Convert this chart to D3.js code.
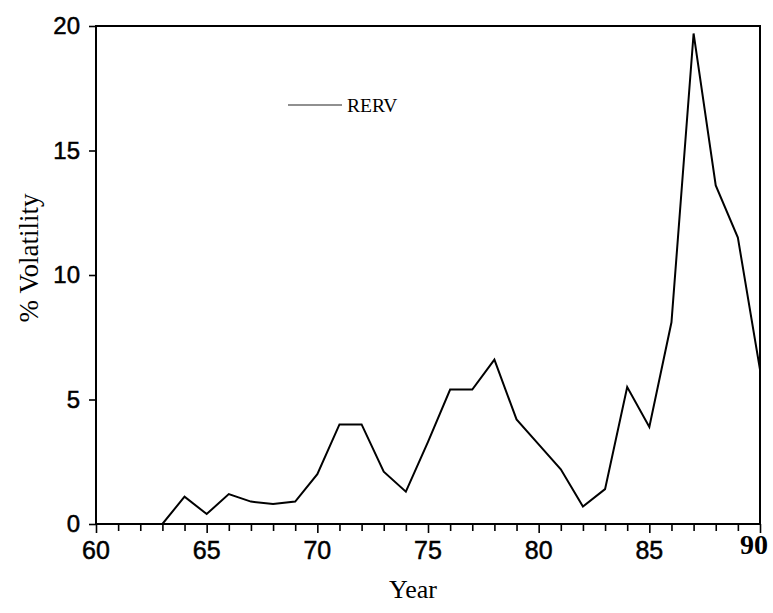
<!DOCTYPE html>
<html>
<head>
<meta charset="utf-8">
<script src="https://cdn.jsdelivr.net/npm/d3@7/dist/d3.min.js"></script>
<style>
  html, body { margin: 0; padding: 0; background: #fff; }
  svg { display: block; }
</style>
</head>
<body>
<svg id="chart" width="773" height="613"></svg>
<script>
// ---- data ----
const years = [60,61,62,63,64,65,66,67,68,69,70,71,72,73,74,75,76,77,78,79,80,81,82,83,84,85,86,87,88,89,90];
const rerv  = [0,0,0,0,1.1,0.4,1.2,0.9,0.8,0.9,2.0,4.0,4.0,2.1,1.3,3.3,5.4,5.4,6.6,4.2,3.2,2.2,0.7,1.4,5.5,3.9,8.1,19.7,13.6,11.5,6.2];
const xTickLabels = [60,65,70,75,80,85,90];
const yTickLabels = [0,5,10,15,20];
const seriesName = "RERV";

(function () {
// ---- layout ----
const svg = d3.select("#chart");
const mLeft = 96, mRight = 760, mTop = 26, mBottom = 524;

const x = d3.scaleLinear().domain([60, 90]).range([mLeft, mRight]);
const y = d3.scaleLinear().domain([0, 20]).range([mBottom, mTop]);

// frame
svg.append("rect")
  .attr("x", mLeft).attr("y", mTop)
  .attr("width", mRight - mLeft).attr("height", mBottom - mTop)
  .attr("fill", "none").attr("stroke", "#000").attr("stroke-width", 2);

// x axis: minor ticks every year
const xAxis = d3.axisBottom(x)
  .tickValues(d3.range(60, 91, 1))
  .tickSize(7)
  .tickFormat("");
const gx = svg.append("g").attr("transform", `translate(0,${mBottom})`).call(xAxis);
gx.select(".domain").remove();
gx.selectAll(".tick line").attr("stroke", "#000").attr("stroke-width", 1.6)
  .attr("y2", d => (d % 5 === 0 ? 9 : 7));

// x labels
svg.append("g").selectAll("text")
  .data(xTickLabels)
  .join("text")
  .attr("x", d => x(d) + (d === 90 ? -6 : 0))
  .attr("y", d => d === 90 ? 554 : 559)
  .attr("text-anchor", "middle")
  .attr("font-family", d => d === 90 ? "'Liberation Serif', 'Times New Roman', serif" : "'Liberation Sans', Arial, sans-serif")
  .attr("font-weight", d => d === 90 ? "bold" : "normal")
  .attr("font-size", d => d === 90 ? 28 : 25)
  .attr("fill", "#000")
  .attr("stroke", "#000")
  .attr("stroke-width", d => d === 90 ? 0 : 0.5)
  .text(d => d);

// y axis
const yAxis = d3.axisLeft(y).tickValues(yTickLabels).tickSize(7).tickFormat("");
const gy = svg.append("g").attr("transform", `translate(${mLeft},0)`).call(yAxis);
gy.select(".domain").remove();
gy.selectAll(".tick line").attr("stroke", "#000").attr("stroke-width", 1.6);

svg.append("g").selectAll("text")
  .data(yTickLabels)
  .join("text")
  .attr("x", 80)
  .attr("y", d => y(d) + 8)
  .attr("text-anchor", "end")
  .attr("font-family", "'Liberation Sans', Arial, sans-serif")
  .attr("font-size", 24)
  .attr("fill", "#000")
  .attr("stroke", "#000")
  .attr("stroke-width", 0.5)
  .text(d => d);

// line
const line = d3.line()
  .x((d, i) => x(years[i]))
  .y(d => y(d));
svg.append("path")
  .datum(rerv)
  .attr("d", line)
  .attr("fill", "none")
  .attr("stroke", "#000")
  .attr("stroke-width", 2)
  .attr("stroke-linejoin", "miter");

// legend
svg.append("line")
  .attr("x1", 288).attr("x2", 342)
  .attr("y1", 105).attr("y2", 105)
  .attr("stroke", "#222").attr("stroke-width", 1.2);
svg.append("text")
  .attr("x", 347).attr("y", 112)
  .attr("font-family", "'Liberation Serif', 'Times New Roman', serif")
  .attr("font-size", 19.5)
  .attr("fill", "#000")
  .text(seriesName);

// axis titles
svg.append("text")
  .attr("x", 413).attr("y", 598)
  .attr("text-anchor", "middle")
  .attr("font-family", "'Liberation Serif', 'Times New Roman', serif")
  .attr("font-size", 26)
  .attr("fill", "#000")
  .text("Year");

svg.append("text")
  .attr("transform", "translate(38,258) rotate(-90)")
  .attr("text-anchor", "middle")
  .attr("font-family", "'Liberation Serif', 'Times New Roman', serif")
  .attr("font-size", 27)
  .attr("fill", "#000")
  .text("% Volatility");
})();
</script>
</body>
</html>
